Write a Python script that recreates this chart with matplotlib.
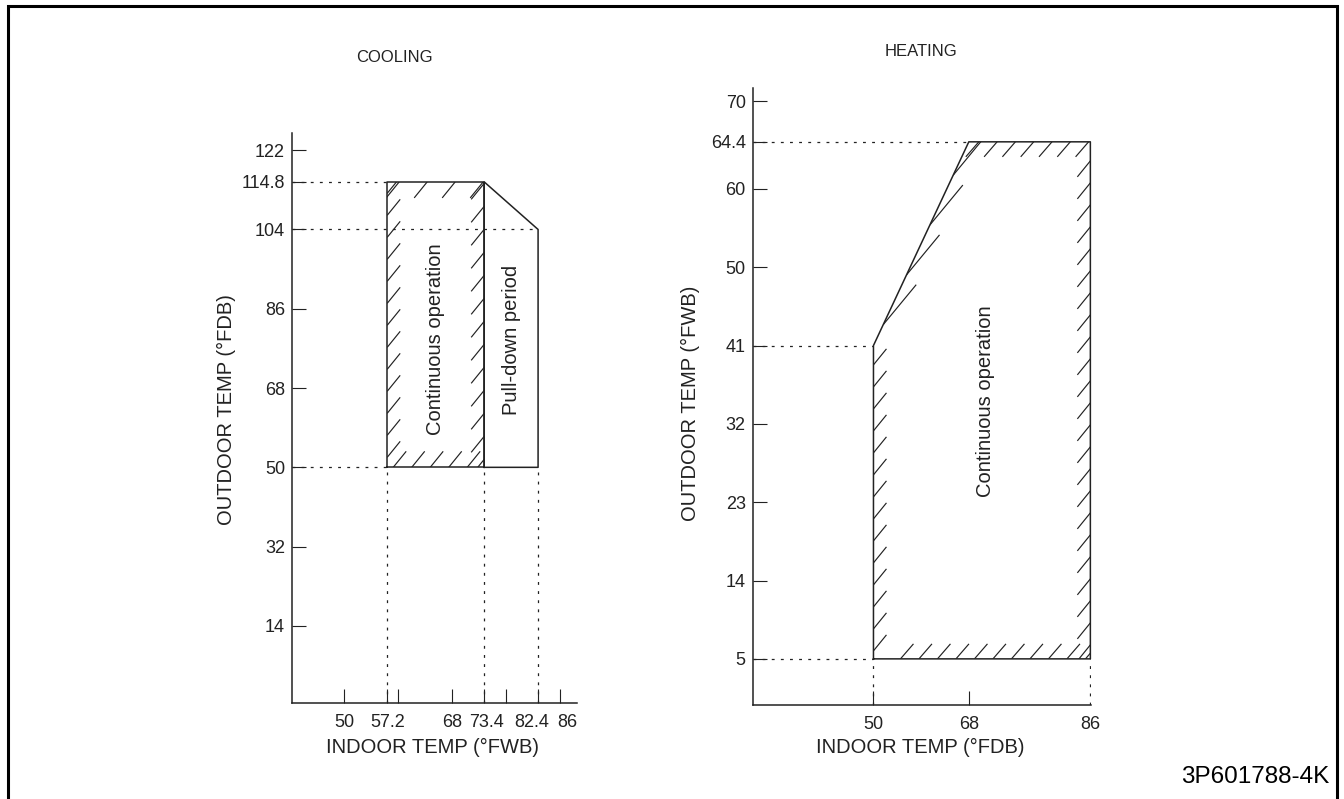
import numpy as np
import matplotlib
matplotlib.use("Agg")
import matplotlib.pyplot as plt
from matplotlib.collections import LineCollection
from matplotlib.patches import Polygon, Rectangle
from matplotlib.transforms import ScaledTranslation

plt.rcParams['font.family'] = ['Liberation Sans', 'DejaVu Sans']

INK = '#222222'
FS_TICK = 13
FS_LABEL = 14.5
FS_TITLE = 12

# cooling (indoor °FWB vs outdoor °FDB)
cool_x_ticks = [50, 57.2, 68, 73.4, 82.4, 86]
cool_x_minor = [59, 77]
cool_y_ticks = [14, 32, 50, 68, 86, 104, 114.8, 122]
cont_x = [57.2, 73.4, 73.4, 57.2]
cont_y = [50, 50, 114.8, 114.8]
pull_x = [73.4, 82.4, 82.4, 73.4]
pull_y = [50, 50, 104, 114.8]

# heating (indoor °FDB vs outdoor °FWB), drawn on an uneven grid
heat_x_ticks = [50, 68, 86]
heat_x_grid = [10, 20, 32.75]
heat_y_ticks = [5, 14, 23, 32, 41, 50, 60, 64.4, 70]
heat_y_grid = [-15, -10, -5, 0, 5, 10, 15, 18, 20.6]
heat_x = [50, 50, 68, 86, 86]
heat_y = [5, 41, 64.4, 64.4, 5]


def piecewise(knots, grid):
    k = np.asarray(knots, float)
    g = np.asarray(grid, float)

    def make(a, b):
        def f(v):
            v = np.asarray(v, float)
            mid = np.interp(v, a, b)
            lo = b[0] + (v - a[0]) * (b[1] - b[0]) / (a[1] - a[0])
            hi = b[-1] + (v - a[-1]) * (b[-1] - b[-2]) / (a[-1] - a[-2])
            return np.where(v < a[0], lo, np.where(v > a[-1], hi, mid))
        return f
    return make(k, g), make(g, k)


def px(x, y):
    return x / 1344, 1 - y / 799


def hatch(ax, xs, ys, edges):
    # short "/" marks along the inside of each edge, spaced in screen pixels
    clip = ax.add_patch(Polygon(np.column_stack([xs, ys]), closed=True,
                                fill=False, edgecolor='none'))
    pts = ax.transData.transform(np.column_stack([xs, ys]))
    inv = ax.transData.inverted()
    segs = []
    for i, j, step, off, vec, from_edge in edges:
        p0, p1 = pts[i], pts[j]
        length = np.hypot(*(p1 - p0))
        v = np.array(vec, float)
        for t in np.arange(off, length, step):
            q = p0 + (p1 - p0) * t / length
            a, b = (q, q + v) if from_edge else (q - v, q)
            segs.append(inv.transform(np.array([a, b])))
    lc = LineCollection(segs, colors=INK, linewidths=0.85)
    ax.add_collection(lc)
    lc.set_clip_path(clip)


def style(ax):
    for s in ('top', 'right'):
        ax.spines[s].set_visible(False)
    for s in ('left', 'bottom'):
        ax.spines[s].set_linewidth(1.1)
        ax.spines[s].set_color(INK)
    ax.tick_params(which='both', direction='in', length=10, width=0.8,
                   colors=INK, labelsize=FS_TICK)
    ax.tick_params(axis='y', pad=5)
    ax.tick_params(axis='x', pad=8)


dots = dict(colors=INK, linewidths=0.9, linestyles=(0, (2.3, 5)))

fig = plt.figure(figsize=(13.44, 7.99), dpi=100)

# ---------- COOLING ----------
ax1 = fig.add_axes([292 / 1344, 96 / 799, 285 / 1344, 570 / 799])
style(ax1)
ax1.set_xlim(41.3, 88.9)
ax1.set_ylim(-3.5, 125.9)
ax1.set_xticks(cool_x_ticks, [f"{v:g}" for v in cool_x_ticks])
ax1.set_xticks(cool_x_minor, minor=True)
ax1.set_yticks(cool_y_ticks, [f"{v:g}" for v in cool_y_ticks])
# crowded labels on the right are nudged apart, as in the drawing
for lab, dx in zip(ax1.get_xticklabels(), [0, 0, 0, 2, -6, 8]):
    lab.set_transform(lab.get_transform()
                      + ScaledTranslation(dx / 100, 0, fig.dpi_scale_trans))

x0 = ax1.get_xlim()[0]
y0 = ax1.get_ylim()[0]
ax1.hlines([cont_y[2], pull_y[2], cont_y[0]], x0,
           [cont_x[0], pull_x[1], cont_x[0]], **dots)
ax1.vlines([cont_x[0], cont_x[1], pull_x[1]], y0, cont_y[0], **dots)

ax1.plot(cont_x + cont_x[:1], cont_y + cont_y[:1], color=INK, lw=1.1)
ax1.plot(pull_x + pull_x[:1], pull_y + pull_y[:1], color=INK, lw=1.1)
hatch(ax1, cont_x, cont_y, [
    (0, 1, 18.5, 6, (13, 16), True),    # bottom
    (1, 2, 23, 8, (13, 16), False),     # right
    (3, 2, 28, 12, (13, 16), False),    # top
    (0, 3, 22, 10, (13, 16), True),     # left
])

ax1.text(np.mean(cont_x[:2]), 79, "Continuous operation", rotation=90,
         ha='center', va='center', fontsize=FS_LABEL, color=INK)
ax1.text(np.mean(pull_x[:2]), 79, "Pull-down period", rotation=90,
         ha='center', va='center', fontsize=FS_LABEL, color=INK)

# ---------- HEATING ----------
ax2 = fig.add_axes([752.7 / 1344, 94 / 799, 338 / 1344, 617 / 799])
style(ax2)
ax2.set_xscale('function', functions=piecewise(heat_x_ticks, heat_x_grid))
ax2.set_yscale('function', functions=piecewise(heat_y_ticks, heat_y_grid))
ax2.set_xlim(27.2, 86.05)
ax2.set_ylim(-0.3, 71.8)
ax2.set_xticks(heat_x_ticks, [f"{v:g}" for v in heat_x_ticks])
ax2.xaxis.set_minor_locator(matplotlib.ticker.NullLocator())
ax2.yaxis.set_minor_locator(matplotlib.ticker.NullLocator())
ax2.set_yticks(heat_y_ticks, [f"{v:g}" for v in heat_y_ticks])
xt = ax2.xaxis.get_major_ticks()
xt[1].tick1line.set_color('#888888')
xt[2].tick1line.set_visible(False)

x0 = ax2.get_xlim()[0]
y0 = ax2.get_ylim()[0]
ax2.hlines([heat_y[2], heat_y[1], heat_y[0]], x0,
           [heat_x[2], heat_x[1], heat_x[0]], **dots)
ax2.vlines([heat_x[0], heat_x[4]], y0, heat_y[0], **dots)

ax2.plot(heat_x + heat_x[:1], heat_y + heat_y[:1], color=INK, lw=1.1,
         clip_on=False)
hatch(ax2, heat_x, heat_y, [
    (0, 1, 22, 8, (13, 16), True),      # left
    (1, 2, 55, 23, (33, 40), True),     # slanted
    (2, 3, 18.3, 10, (13, 15), False),  # top
    (4, 3, 22, 14, (13, 16), False),    # right
    (0, 4, 18.5, 27, (13, 15), True),   # bottom
])

ax2.text(70.5, 34.6, "Continuous operation", rotation=90,
         ha='center', va='center', fontsize=FS_LABEL, color=INK)

# ---------- labels and frame ----------
fig.text(*px(394, 58), "COOLING", ha='center', va='center',
         fontsize=FS_TITLE, color=INK)
fig.text(*px(921, 51), "HEATING", ha='center', va='center',
         fontsize=FS_TITLE, color=INK)
fig.text(*px(432, 747), "INDOOR TEMP (°FWB)", ha='center', va='center',
         fontsize=FS_LABEL, color=INK)
fig.text(*px(920, 747), "INDOOR TEMP (°FDB)", ha='center', va='center',
         fontsize=FS_LABEL, color=INK)
fig.text(*px(226, 410), "OUTDOOR TEMP (°FDB)", rotation=90, ha='center',
         va='center', fontsize=FS_LABEL, color=INK)
fig.text(*px(690, 403), "OUTDOOR TEMP (°FWB)", rotation=90, ha='center',
         va='center', fontsize=FS_LABEL, color=INK)
fig.text(*px(1329, 777), "3P601788-4K", ha='right', va='center',
         fontsize=17.5, color='black')

fig.add_artist(Rectangle(px(7.5, 820), 1329 / 1344, 814 / 799,
                         transform=fig.transFigure, fill=False,
                         edgecolor='black', linewidth=2.2))

fig.savefig("out.png", dpi=100)
